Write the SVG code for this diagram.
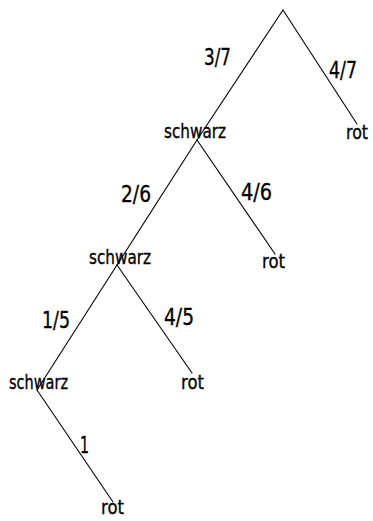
<svg xmlns="http://www.w3.org/2000/svg" width="373" height="521" viewBox="0 0 373 521">
  <style>
    .edge { stroke: #000; stroke-width: 1.1; fill: none; stroke-linecap: round; }
    .node { font-family: "DejaVu Sans", "Liberation Sans", sans-serif; font-size: 20px; fill: #000; stroke: #000; stroke-width: 0.35; }
    .prob { font-family: "DejaVu Sans", "Liberation Sans", sans-serif; font-size: 23px; fill: #000; stroke: #000; stroke-width: 0.35; }
  </style>
  <rect width="373" height="521" fill="#fff"/>

  <!-- branches of the tree -->
  <g id="connectors">
    <line class="edge" x1="283" y1="10" x2="197" y2="140"/>
    <line class="edge" x1="283" y1="10" x2="357" y2="124"/>
    <line class="edge" x1="197" y1="140" x2="117" y2="265"/>
    <line class="edge" x1="197" y1="140" x2="275" y2="254"/>
    <line class="edge" x1="117" y1="265" x2="37" y2="390"/>
    <line class="edge" x1="117" y1="265" x2="192" y2="373"/>
    <line class="edge" x1="37" y1="390" x2="113" y2="502"/>
  </g>

  <!-- branch probabilities -->
  <g id="probabilities">
    <text class="prob" x="204" y="65" textLength="27" lengthAdjust="spacingAndGlyphs">3/7</text>
    <text class="prob" x="329" y="78" textLength="28" lengthAdjust="spacingAndGlyphs">4/7</text>
    <text class="prob" x="121" y="202" textLength="30" lengthAdjust="spacingAndGlyphs">2/6</text>
    <text class="prob" x="241" y="200" textLength="31" lengthAdjust="spacingAndGlyphs">4/6</text>
    <text class="prob" x="42" y="328" textLength="28" lengthAdjust="spacingAndGlyphs">1/5</text>
    <text class="prob" x="164" y="325" textLength="30" lengthAdjust="spacingAndGlyphs">4/5</text>
    <text class="prob" x="80" y="453" textLength="9" lengthAdjust="spacingAndGlyphs">1</text>
  </g>

  <!-- outcome nodes -->
  <g id="n-schwarz-1"><text class="node" x="164" y="138" textLength="62" lengthAdjust="spacingAndGlyphs">schwarz</text></g>
  <g id="n-rot-1"><text class="node" x="346" y="139" textLength="22" lengthAdjust="spacingAndGlyphs">rot</text></g>
  <g id="n-schwarz-2"><text class="node" x="89" y="264" textLength="62" lengthAdjust="spacingAndGlyphs">schwarz</text></g>
  <g id="n-rot-2"><text class="node" x="262" y="268" textLength="23" lengthAdjust="spacingAndGlyphs">rot</text></g>
  <g id="n-schwarz-3"><text class="node" x="9" y="389" textLength="59" lengthAdjust="spacingAndGlyphs">schwarz</text></g>
  <g id="n-rot-3"><text class="node" x="181" y="389" textLength="23" lengthAdjust="spacingAndGlyphs">rot</text></g>
  <g id="n-rot-4"><text class="node" x="101" y="514" textLength="23" lengthAdjust="spacingAndGlyphs">rot</text></g>
</svg>
